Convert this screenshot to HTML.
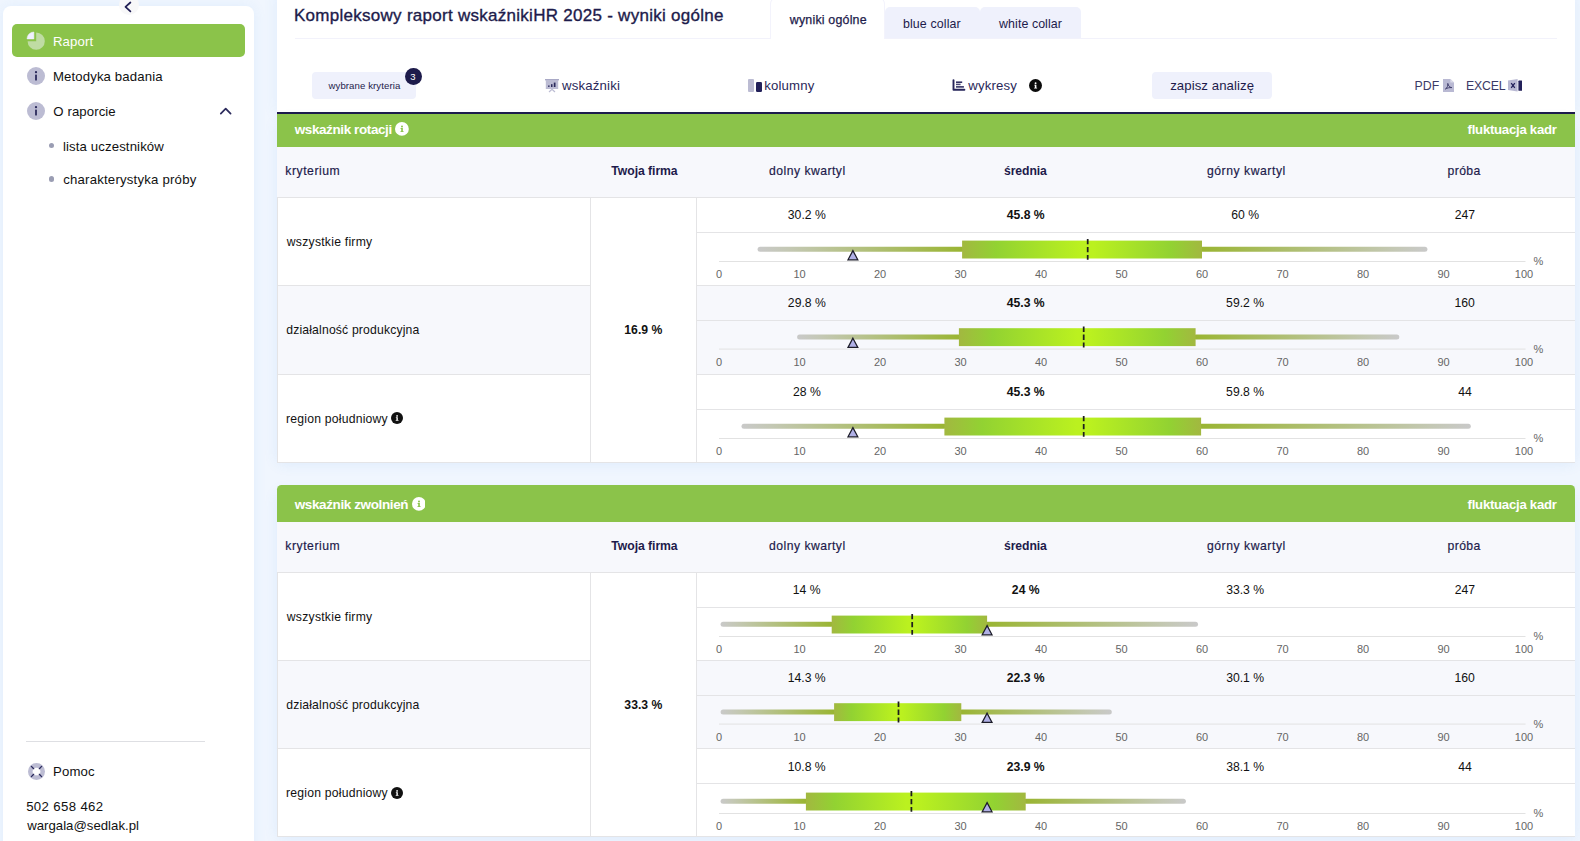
<!DOCTYPE html>
<html><head><meta charset="utf-8">
<style>
*{box-sizing:border-box;margin:0;padding:0}
html,body{width:1580px;height:841px;overflow:hidden}
body{background:#f0f6fe;font-family:"Liberation Sans",sans-serif;color:#111;position:relative}
.abs{position:absolute}
#side{position:absolute;left:3px;top:6px;width:251px;height:860px;background:#fff;border-radius:8px;box-shadow:0 0 14px rgba(60,135,235,.085)}
#main{position:absolute;left:277px;top:-10px;width:1298px;height:124px;background:#fff;box-shadow:0 0 14px rgba(60,135,235,.085)}
.ghead{position:absolute;left:277px;width:1298px;background:#8bc34a}
.thead{position:absolute;left:277px;width:1298px;height:50px;background:#f7f8fc}
.tbody{position:absolute;left:277px;width:1298px;background:#fff}
.alt{position:absolute;background:#f7f8fc}
.hl{position:absolute;height:1px;background:#e4e4e6}
.vl{position:absolute;width:1px;background:#e4e4e6}
.ch{position:absolute;left:697px}
.tk{font-family:"Liberation Sans",sans-serif;font-size:11px;fill:#666;text-anchor:middle}
.ic{position:absolute;left:27px;width:18px;height:18px;border-radius:50%;background:#bcbcd3}
</style></head><body>
<div id="side"></div>
<!-- collapse btn -->
<div class="abs" style="left:119px;top:-4.6px;width:20px;height:20px;border-radius:50%;background:#f8f8f9"></div>
<svg class="abs" style="left:123px;top:1px" width="10" height="12" viewBox="0 0 10 12"><path d="M7.4 1.5 L2.5 5.9 L7.4 10.3" fill="none" stroke="#211f55" stroke-width="1.75" stroke-linecap="round" stroke-linejoin="round"/></svg>
<!-- Raport -->
<div class="abs" style="left:12px;top:24px;width:233px;height:33px;background:#8bc34a;border-radius:5px"></div>
<svg class="abs" style="left:26px;top:31px" width="20" height="20" viewBox="0 0 20 20"><path d="M10.2 10.2 L10.2 1.6 A8.6 8.6 0 1 1 1.6 10.2 Z" fill="#bfdca3"/><path d="M7.9 7.9 L1.0 7.9 A6.9 6.9 0 0 1 7.9 1.0 Z" fill="#f0f0ff" stroke="#f0f0ff" stroke-width="0.5" stroke-linejoin="round"/></svg>
<!-- Metodyka -->
<div class="ic" style="top:67px"></div>
<svg class="abs" style="left:27px;top:67px" width="18" height="18" viewBox="0 0 18 18"><circle cx="9" cy="5.2" r="1.15" fill="#2b2a5c"/><rect x="8.1" y="7.6" width="1.8" height="6" rx="0.6" fill="#2b2a5c"/></svg>
<!-- O raporcie -->
<div class="ic" style="top:102px"></div>
<svg class="abs" style="left:27px;top:102px" width="18" height="18" viewBox="0 0 18 18"><circle cx="9" cy="5.2" r="1.15" fill="#2b2a5c"/><rect x="8.1" y="7.6" width="1.8" height="6" rx="0.6" fill="#2b2a5c"/></svg>
<svg class="abs" style="left:219px;top:106px" width="13" height="10" viewBox="0 0 13 10"><path d="M1.8 7.6 L6.7 2.6 L11.6 7.6" fill="none" stroke="#2b2a5c" stroke-width="1.7" stroke-linecap="round" stroke-linejoin="round"/></svg>
<div class="abs" style="left:48.8px;top:143px;width:5.2px;height:5.2px;border-radius:50%;background:#9a9db3"></div>
<div class="abs" style="left:48.8px;top:176.4px;width:5.2px;height:5.2px;border-radius:50%;background:#9a9db3"></div>
<!-- bottom -->
<div class="abs" style="left:26px;top:741px;width:179px;height:1px;background:#dedfe3"></div>
<div class="ic" style="top:763px;left:27.5px;width:17px;height:17px"></div>
<svg class="abs" style="left:27.5px;top:763px" width="17" height="17" viewBox="0 0 18 18"><circle cx="9" cy="9" r="4.1" fill="#fff"/><g stroke="#2b2a5c" stroke-width="1.4" stroke-linecap="round"><line x1="3.6" y1="3.6" x2="6" y2="6"/><line x1="14.4" y1="3.6" x2="12" y2="6"/><line x1="3.6" y1="14.4" x2="6" y2="12"/><line x1="14.4" y1="14.4" x2="12" y2="12"/></g></svg>

<div id="main"></div>
<div class="abs" style="left:295px;top:38px;width:1262px;height:1px;background:#f2f2fb"></div>
<!-- tabs -->
<div class="abs" style="left:770px;top:-3px;width:115px;height:42px;background:#fff;border:1px solid #f3f3fc;border-bottom:none;border-radius:7px 7px 0 0"></div>
<div class="abs" style="left:885px;top:7px;width:95px;height:31px;background:#eff1fc;border-radius:5px 5px 0 0"></div>
<div class="abs" style="left:980px;top:7px;width:101px;height:31px;background:#eff1fc;border-radius:5px 5px 0 0"></div>
<!-- toolbar -->
<div class="abs" style="left:312px;top:72px;width:104px;height:27px;background:#eff1fc;border-radius:4px"></div>
<div class="abs" style="left:404.9px;top:68.1px;width:16.8px;height:16.8px;border-radius:50%;background:#1d1b4b"></div>
<div class="abs" style="left:1152px;top:72px;width:120px;height:27px;background:#eff1fc;border-radius:4px"></div>
<!-- icons -->
<svg class="abs" style="left:544px;top:78px" width="16" height="15" viewBox="0 0 16 15"><rect x="1" y="1" width="14" height="1.4" fill="#a9a9c6"/><rect x="1.8" y="2" width="12.4" height="9" fill="#bcbcd3"/><path d="M5 14 L8 11.2 L11 14" fill="none" stroke="#bcbcd3" stroke-width="1.2"/><rect x="4.2" y="7.4" width="1.3" height="1.6" fill="#2b2a5c"/><rect x="7" y="6.2" width="1.5" height="2.8" fill="#2b2a5c"/><rect x="9.8" y="4.6" width="1.7" height="4.4" fill="#2b2a5c"/></svg>
<div class="abs" style="left:748.1px;top:78.9px;width:5.7px;height:12.7px;background:#bcbcd3;border-radius:1px"></div>
<div class="abs" style="left:756px;top:81.6px;width:6.1px;height:10px;background:#23215a;border-radius:1.2px"></div>
<svg class="abs" style="left:951px;top:78px" width="16" height="14" viewBox="0 0 16 14"><path d="M2.5 2.1 V11.8 H13.4" fill="none" stroke="#26245a" stroke-width="1.9" stroke-linecap="round" stroke-linejoin="round"/><g stroke="#26245a" stroke-width="1.5" stroke-linecap="butt"><line x1="5" y1="4.2" x2="11.2" y2="4.2"/><line x1="5" y1="6.4" x2="9.6" y2="6.4" stroke="#4a4878"/><line x1="5" y1="8.9" x2="12.9" y2="8.9"/></g></svg>
<svg class="abs" style="left:1443px;top:78.8px" width="11" height="13" viewBox="0 0 11 13"><path d="M0 0 H7.4 L11 3.6 V13 H0 Z" fill="#b9b9d3"/><path d="M7.4 0 L11 3.6 H7.4 Z" fill="#dcdcea"/><path d="M2.4 10 C4.4 8.8 5 6.6 4.8 4.4 C5.2 6.8 6.8 8.4 8.8 8.6 C6.4 8.4 4.2 9 2.4 10 Z" fill="none" stroke="#3a3866" stroke-width="0.9" stroke-linejoin="round"/></svg>
<svg class="abs" style="left:1508px;top:78.6px" width="14.4" height="13" viewBox="0 0 14.4 13"><path d="M0 1.6 L9.6 0 V12.6 L0 11 Z" fill="#b9b9d3"/><rect x="10.4" y="1.6" width="3.8" height="10.2" rx="0.6" fill="#23215a"/><path d="M3.2 4.2 L6.8 8.8 M6.8 4.2 L3.2 8.8" stroke="#23215a" stroke-width="1.3"/></svg>
<!-- navy line -->
<div class="abs" style="left:277px;top:112px;width:1298px;height:2px;background:#1d1b4b"></div>
<div class="abs" style="left:277px;top:118px;width:1298px;height:343px;box-shadow:0 3px 14px rgba(60,135,235,.10);border-radius:5px"></div>
<div class="ghead" style="top:114px;height:33px;"></div>
<div style="position:absolute;white-space:nowrap;line-height:15px;top:122px;left:294.70px;font-size:13.5px;font-weight:bold;color:#fff;letter-spacing:-0.401px;">wskaźnik rotacji</div>
<svg class="abs" style="left:395.10px;top:122.15px" width="13.8" height="13.8" viewBox="0 0 16 16"><circle cx="8" cy="8" r="8" fill="#fff"/><path d="M6.5 7.0 H9.1 V10.7 H10 V11.7 H6.3 V10.7 H7.2 V8.0 H6.5 Z" fill="#8bc34a"/><circle cx="8.1" cy="5.2" r="1.15" fill="#8bc34a"/></svg>
<div style="position:absolute;white-space:nowrap;line-height:15px;top:122px;left:1467.59px;font-size:13.2px;font-weight:bold;color:#fff;letter-spacing:-0.266px;">fluktuacja kadr</div>
<div class="thead" style="top:147px"></div>
<div style="position:absolute;white-space:nowrap;line-height:14px;top:164px;left:285.37px;font-size:12.2px;font-weight:normal;color:#1d1b4b;letter-spacing:0.528px;-webkit-text-stroke:0.18px #1d1b4b;">kryterium</div>
<div style="position:absolute;white-space:nowrap;line-height:14px;top:164px;left:611.33px;font-size:12.2px;font-weight:bold;color:#1d1b4b;letter-spacing:-0.051px;">Twoja firma</div>
<div style="position:absolute;white-space:nowrap;line-height:14px;top:164px;left:769.12px;font-size:12.2px;font-weight:normal;color:#1d1b4b;letter-spacing:0.464px;-webkit-text-stroke:0.18px #1d1b4b;">dolny kwartyl</div>
<div style="position:absolute;white-space:nowrap;line-height:14px;top:164px;left:1004.04px;font-size:12.2px;font-weight:bold;color:#1d1b4b;letter-spacing:-0.097px;">średnia</div>
<div style="position:absolute;white-space:nowrap;line-height:14px;top:164px;left:1206.94px;font-size:12.2px;font-weight:normal;color:#1d1b4b;letter-spacing:0.541px;-webkit-text-stroke:0.18px #1d1b4b;">górny kwartyl</div>
<div style="position:absolute;white-space:nowrap;line-height:14px;top:164px;left:1447.45px;font-size:12.2px;font-weight:normal;color:#1d1b4b;letter-spacing:0.440px;-webkit-text-stroke:0.18px #1d1b4b;">próba</div>
<div class="tbody" style="top:197px;height:265px"></div>
<div class="hl" style="top:197px;left:277px;width:1298px"></div>
<div class="hl" style="top:232px;left:697px;width:878px"></div>
<div style="position:absolute;white-space:nowrap;line-height:14px;top:235px;left:286.84px;font-size:12.2px;font-weight:normal;color:#111;letter-spacing:0.243px;">wszystkie firmy</div>
<div style="position:absolute;white-space:nowrap;line-height:14px;top:208px;left:787.84px;font-size:12.2px;font-weight:normal;color:#111;letter-spacing:0.000px;">30.2 %</div>
<div style="position:absolute;white-space:nowrap;line-height:14px;top:208px;left:1006.78px;font-size:12.2px;font-weight:bold;color:#111;letter-spacing:0.000px;">45.8 %</div>
<div style="position:absolute;white-space:nowrap;line-height:14px;top:208px;left:1231.20px;font-size:12.2px;font-weight:normal;color:#111;letter-spacing:0.000px;">60 %</div>
<div style="position:absolute;white-space:nowrap;line-height:14px;top:208px;left:1454.77px;font-size:12.2px;font-weight:normal;color:#111;letter-spacing:0.000px;">247</div>
<svg class="ch" style="top:233px" width="878" height="52" viewBox="697 233 878 52"><defs><linearGradient id="wl1" x1="757.64" x2="962.11" y1="0" y2="0" gradientUnits="userSpaceOnUse"><stop offset="0" stop-color="#c9c9c9"/><stop offset="0.15" stop-color="#c4c8b4"/><stop offset="1" stop-color="#9ab533"/></linearGradient><linearGradient id="wr1" x1="1202.0" x2="1427.4" y1="0" y2="0" gradientUnits="userSpaceOnUse"><stop offset="0" stop-color="#9ab533"/><stop offset="0.85" stop-color="#c4c8b4"/><stop offset="1" stop-color="#c9c9c9"/></linearGradient><linearGradient id="bl1" x1="962.11" x2="1087.69" y1="0" y2="0" gradientUnits="userSpaceOnUse"><stop offset="0" stop-color="#a2b840"/><stop offset="0.27" stop-color="#92d232"/><stop offset="0.95" stop-color="#bbf11f"/><stop offset="1" stop-color="#bbf11f"/></linearGradient><linearGradient id="br1" x1="1087.69" x2="1202.0" y1="0" y2="0" gradientUnits="userSpaceOnUse"><stop offset="0" stop-color="#bbf11f"/><stop offset="0.05" stop-color="#bbf11f"/><stop offset="0.73" stop-color="#92d232"/><stop offset="1" stop-color="#a2b840"/></linearGradient></defs><line x1="719" x2="1525.5" y1="261.5" y2="261.5" stroke="#e2e2e2" stroke-width="1"/><rect x="757.6" y="246.8" width="206.5" height="5" rx="2.5" fill="url(#wl1)"/><rect x="1200.0" y="246.8" width="227.4" height="5" rx="2.5" fill="url(#wr1)"/><rect x="962.1" y="240.6" width="126.1" height="17.9" fill="url(#bl1)"/><rect x="1087.7" y="240.6" width="114.3" height="17.9" fill="url(#br1)"/><line x1="1087.7" x2="1087.7" y1="239" y2="259.8" stroke="#1e1e1e" stroke-width="1.75" stroke-dasharray="5.3,2.7"/><path d="M852.9 250.6 L857.8 259.8 L848.0 259.8 Z" fill="#b0b0e6" stroke="#1c1c28" stroke-width="1.25" stroke-linejoin="miter"/><text x="719.0" y="278.4" class="tk">0</text><text x="799.5" y="278.4" class="tk">10</text><text x="880.0" y="278.4" class="tk">20</text><text x="960.5" y="278.4" class="tk">30</text><text x="1041.0" y="278.4" class="tk">40</text><text x="1121.5" y="278.4" class="tk">50</text><text x="1202.0" y="278.4" class="tk">60</text><text x="1282.5" y="278.4" class="tk">70</text><text x="1363.0" y="278.4" class="tk">80</text><text x="1443.5" y="278.4" class="tk">90</text><text x="1524.0" y="278.4" class="tk">100</text><text x="1538.5" y="265.3" class="tk">%</text></svg>
<div class="alt" style="top:285px;height:89px;left:277px;width:313px"></div>
<div class="alt" style="top:285px;height:89px;left:697px;width:878px"></div>
<div class="hl" style="top:285px;left:277px;width:313px"></div>
<div class="hl" style="top:285px;left:697px;width:878px"></div>
<div class="hl" style="top:320px;left:697px;width:878px"></div>
<div style="position:absolute;white-space:nowrap;line-height:14px;top:323px;left:286.22px;font-size:12.2px;font-weight:normal;color:#111;letter-spacing:0.167px;">działalność produkcyjna</div>
<div style="position:absolute;white-space:nowrap;line-height:14px;top:296px;left:787.86px;font-size:12.2px;font-weight:normal;color:#111;letter-spacing:0.000px;">29.8 %</div>
<div style="position:absolute;white-space:nowrap;line-height:14px;top:296px;left:1006.78px;font-size:12.2px;font-weight:bold;color:#111;letter-spacing:0.000px;">45.3 %</div>
<div style="position:absolute;white-space:nowrap;line-height:14px;top:296px;left:1226.12px;font-size:12.2px;font-weight:normal;color:#111;letter-spacing:0.000px;">59.2 %</div>
<div style="position:absolute;white-space:nowrap;line-height:14px;top:296px;left:1454.56px;font-size:12.2px;font-weight:normal;color:#111;letter-spacing:0.000px;">160</div>
<svg class="ch" style="top:321px" width="878" height="53" viewBox="697 321 878 53"><defs><linearGradient id="wl2" x1="797.085" x2="958.89" y1="0" y2="0" gradientUnits="userSpaceOnUse"><stop offset="0" stop-color="#c9c9c9"/><stop offset="0.15" stop-color="#c4c8b4"/><stop offset="1" stop-color="#9ab533"/></linearGradient><linearGradient id="wr2" x1="1195.56" x2="1399.225" y1="0" y2="0" gradientUnits="userSpaceOnUse"><stop offset="0" stop-color="#9ab533"/><stop offset="0.85" stop-color="#c4c8b4"/><stop offset="1" stop-color="#c9c9c9"/></linearGradient><linearGradient id="bl2" x1="958.89" x2="1083.665" y1="0" y2="0" gradientUnits="userSpaceOnUse"><stop offset="0" stop-color="#a2b840"/><stop offset="0.27" stop-color="#92d232"/><stop offset="0.95" stop-color="#bbf11f"/><stop offset="1" stop-color="#bbf11f"/></linearGradient><linearGradient id="br2" x1="1083.665" x2="1195.56" y1="0" y2="0" gradientUnits="userSpaceOnUse"><stop offset="0" stop-color="#bbf11f"/><stop offset="0.05" stop-color="#bbf11f"/><stop offset="0.73" stop-color="#92d232"/><stop offset="1" stop-color="#a2b840"/></linearGradient></defs><line x1="719" x2="1525.5" y1="349.1" y2="349.1" stroke="#e2e2e2" stroke-width="1"/><rect x="797.1" y="334.40000000000003" width="163.8" height="5" rx="2.5" fill="url(#wl2)"/><rect x="1193.6" y="334.40000000000003" width="205.7" height="5" rx="2.5" fill="url(#wr2)"/><rect x="958.9" y="328.20000000000005" width="125.3" height="17.9" fill="url(#bl2)"/><rect x="1083.7" y="328.20000000000005" width="111.9" height="17.9" fill="url(#br2)"/><line x1="1083.7" x2="1083.7" y1="326.6" y2="347.40000000000003" stroke="#1e1e1e" stroke-width="1.75" stroke-dasharray="5.3,2.7"/><path d="M852.9 338.20000000000005 L857.8 347.40000000000003 L848.0 347.40000000000003 Z" fill="#b0b0e6" stroke="#1c1c28" stroke-width="1.25" stroke-linejoin="miter"/><text x="719.0" y="366.0" class="tk">0</text><text x="799.5" y="366.0" class="tk">10</text><text x="880.0" y="366.0" class="tk">20</text><text x="960.5" y="366.0" class="tk">30</text><text x="1041.0" y="366.0" class="tk">40</text><text x="1121.5" y="366.0" class="tk">50</text><text x="1202.0" y="366.0" class="tk">60</text><text x="1282.5" y="366.0" class="tk">70</text><text x="1363.0" y="366.0" class="tk">80</text><text x="1443.5" y="366.0" class="tk">90</text><text x="1524.0" y="366.0" class="tk">100</text><text x="1538.5" y="352.90000000000003" class="tk">%</text></svg>
<div class="hl" style="top:374px;left:277px;width:313px"></div>
<div class="hl" style="top:374px;left:697px;width:878px"></div>
<div class="hl" style="top:409px;left:697px;width:878px"></div>
<div style="position:absolute;white-space:nowrap;line-height:14px;top:412px;left:285.98px;font-size:12.2px;font-weight:normal;color:#111;letter-spacing:0.215px;">region południowy</div>
<svg class="abs" style="left:391.20px;top:412.30px" width="12.0" height="12.0" viewBox="0 0 16 16"><circle cx="8" cy="8" r="8" fill="#111"/><path d="M6.5 7.0 H9.1 V10.7 H10 V11.7 H6.3 V10.7 H7.2 V8.0 H6.5 Z" fill="#fff"/><circle cx="8.1" cy="5.2" r="1.15" fill="#fff"/></svg>
<div style="position:absolute;white-space:nowrap;line-height:14px;top:385px;left:792.94px;font-size:12.2px;font-weight:normal;color:#111;letter-spacing:0.000px;">28 %</div>
<div style="position:absolute;white-space:nowrap;line-height:14px;top:385px;left:1006.78px;font-size:12.2px;font-weight:bold;color:#111;letter-spacing:0.000px;">45.3 %</div>
<div style="position:absolute;white-space:nowrap;line-height:14px;top:385px;left:1226.12px;font-size:12.2px;font-weight:normal;color:#111;letter-spacing:0.000px;">59.8 %</div>
<div style="position:absolute;white-space:nowrap;line-height:14px;top:385px;left:1458.18px;font-size:12.2px;font-weight:normal;color:#111;letter-spacing:0.000px;">44</div>
<svg class="ch" style="top:410px" width="878" height="52" viewBox="697 410 878 52"><defs><linearGradient id="wl3" x1="741.54" x2="944.4000000000001" y1="0" y2="0" gradientUnits="userSpaceOnUse"><stop offset="0" stop-color="#c9c9c9"/><stop offset="0.15" stop-color="#c4c8b4"/><stop offset="1" stop-color="#9ab533"/></linearGradient><linearGradient id="wr3" x1="1201.034" x2="1470.8700000000001" y1="0" y2="0" gradientUnits="userSpaceOnUse"><stop offset="0" stop-color="#9ab533"/><stop offset="0.85" stop-color="#c4c8b4"/><stop offset="1" stop-color="#c9c9c9"/></linearGradient><linearGradient id="bl3" x1="944.4000000000001" x2="1083.665" y1="0" y2="0" gradientUnits="userSpaceOnUse"><stop offset="0" stop-color="#a2b840"/><stop offset="0.27" stop-color="#92d232"/><stop offset="0.95" stop-color="#bbf11f"/><stop offset="1" stop-color="#bbf11f"/></linearGradient><linearGradient id="br3" x1="1083.665" x2="1201.034" y1="0" y2="0" gradientUnits="userSpaceOnUse"><stop offset="0" stop-color="#bbf11f"/><stop offset="0.05" stop-color="#bbf11f"/><stop offset="0.73" stop-color="#92d232"/><stop offset="1" stop-color="#a2b840"/></linearGradient></defs><line x1="719" x2="1525.5" y1="438.5" y2="438.5" stroke="#e2e2e2" stroke-width="1"/><rect x="741.5" y="423.8" width="204.9" height="5" rx="2.5" fill="url(#wl3)"/><rect x="1199.0" y="423.8" width="271.8" height="5" rx="2.5" fill="url(#wr3)"/><rect x="944.4" y="417.6" width="139.8" height="17.9" fill="url(#bl3)"/><rect x="1083.7" y="417.6" width="117.4" height="17.9" fill="url(#br3)"/><line x1="1083.7" x2="1083.7" y1="416" y2="436.8" stroke="#1e1e1e" stroke-width="1.75" stroke-dasharray="5.3,2.7"/><path d="M852.9 427.6 L857.8 436.8 L848.0 436.8 Z" fill="#b0b0e6" stroke="#1c1c28" stroke-width="1.25" stroke-linejoin="miter"/><text x="719.0" y="455.4" class="tk">0</text><text x="799.5" y="455.4" class="tk">10</text><text x="880.0" y="455.4" class="tk">20</text><text x="960.5" y="455.4" class="tk">30</text><text x="1041.0" y="455.4" class="tk">40</text><text x="1121.5" y="455.4" class="tk">50</text><text x="1202.0" y="455.4" class="tk">60</text><text x="1282.5" y="455.4" class="tk">70</text><text x="1363.0" y="455.4" class="tk">80</text><text x="1443.5" y="455.4" class="tk">90</text><text x="1524.0" y="455.4" class="tk">100</text><text x="1538.5" y="442.3" class="tk">%</text></svg>
<div class="hl" style="top:462px;left:277px;width:1298px"></div>
<div class="vl" style="top:197px;left:277px;height:265px"></div>
<div class="vl" style="top:197px;left:590px;height:265px"></div>
<div class="vl" style="top:197px;left:696px;height:265px"></div>
<div style="position:absolute;white-space:nowrap;line-height:14px;top:323px;left:624.34px;font-size:12.2px;font-weight:bold;color:#111;letter-spacing:0.000px;">16.9 %</div>
<div class="abs" style="left:277px;top:489px;width:1298px;height:347px;box-shadow:0 3px 14px rgba(60,135,235,.10);border-radius:5px"></div>
<div class="ghead" style="top:485px;height:37px;border-radius:4.5px 4.5px 0 0;"></div>
<div style="position:absolute;white-space:nowrap;line-height:15px;top:497px;left:294.70px;font-size:13.5px;font-weight:bold;color:#fff;letter-spacing:-0.386px;">wskaźnik zwolnień</div>
<svg class="abs" style="left:411.60px;top:496.95px" width="13.8" height="13.8" viewBox="0 0 16 16"><circle cx="8" cy="8" r="8" fill="#fff"/><path d="M6.5 7.0 H9.1 V10.7 H10 V11.7 H6.3 V10.7 H7.2 V8.0 H6.5 Z" fill="#8bc34a"/><circle cx="8.1" cy="5.2" r="1.15" fill="#8bc34a"/></svg>
<div style="position:absolute;white-space:nowrap;line-height:15px;top:497px;left:1467.59px;font-size:13.2px;font-weight:bold;color:#fff;letter-spacing:-0.266px;">fluktuacja kadr</div>
<div class="thead" style="top:522px"></div>
<div style="position:absolute;white-space:nowrap;line-height:14px;top:539px;left:285.37px;font-size:12.2px;font-weight:normal;color:#1d1b4b;letter-spacing:0.528px;-webkit-text-stroke:0.18px #1d1b4b;">kryterium</div>
<div style="position:absolute;white-space:nowrap;line-height:14px;top:539px;left:611.33px;font-size:12.2px;font-weight:bold;color:#1d1b4b;letter-spacing:-0.051px;">Twoja firma</div>
<div style="position:absolute;white-space:nowrap;line-height:14px;top:539px;left:769.12px;font-size:12.2px;font-weight:normal;color:#1d1b4b;letter-spacing:0.464px;-webkit-text-stroke:0.18px #1d1b4b;">dolny kwartyl</div>
<div style="position:absolute;white-space:nowrap;line-height:14px;top:539px;left:1004.04px;font-size:12.2px;font-weight:bold;color:#1d1b4b;letter-spacing:-0.097px;">średnia</div>
<div style="position:absolute;white-space:nowrap;line-height:14px;top:539px;left:1206.94px;font-size:12.2px;font-weight:normal;color:#1d1b4b;letter-spacing:0.541px;-webkit-text-stroke:0.18px #1d1b4b;">górny kwartyl</div>
<div style="position:absolute;white-space:nowrap;line-height:14px;top:539px;left:1447.45px;font-size:12.2px;font-weight:normal;color:#1d1b4b;letter-spacing:0.440px;-webkit-text-stroke:0.18px #1d1b4b;">próba</div>
<div class="tbody" style="top:572px;height:264px"></div>
<div class="hl" style="top:572px;left:277px;width:1298px"></div>
<div class="hl" style="top:607px;left:697px;width:878px"></div>
<div style="position:absolute;white-space:nowrap;line-height:14px;top:610px;left:286.84px;font-size:12.2px;font-weight:normal;color:#111;letter-spacing:0.243px;">wszystkie firmy</div>
<div style="position:absolute;white-space:nowrap;line-height:14px;top:583px;left:792.75px;font-size:12.2px;font-weight:normal;color:#111;letter-spacing:0.000px;">14 %</div>
<div style="position:absolute;white-space:nowrap;line-height:14px;top:583px;left:1011.86px;font-size:12.2px;font-weight:bold;color:#111;letter-spacing:0.000px;">24 %</div>
<div style="position:absolute;white-space:nowrap;line-height:14px;top:583px;left:1226.16px;font-size:12.2px;font-weight:normal;color:#111;letter-spacing:0.000px;">33.3 %</div>
<div style="position:absolute;white-space:nowrap;line-height:14px;top:583px;left:1454.77px;font-size:12.2px;font-weight:normal;color:#111;letter-spacing:0.000px;">247</div>
<svg class="ch" style="top:608px" width="878" height="52" viewBox="697 608 878 52"><defs><linearGradient id="wl4" x1="720.61" x2="831.7" y1="0" y2="0" gradientUnits="userSpaceOnUse"><stop offset="0" stop-color="#c9c9c9"/><stop offset="0.15" stop-color="#c4c8b4"/><stop offset="1" stop-color="#9ab533"/></linearGradient><linearGradient id="wr4" x1="987.065" x2="1197.975" y1="0" y2="0" gradientUnits="userSpaceOnUse"><stop offset="0" stop-color="#9ab533"/><stop offset="0.85" stop-color="#c4c8b4"/><stop offset="1" stop-color="#c9c9c9"/></linearGradient><linearGradient id="bl4" x1="831.7" x2="912.2" y1="0" y2="0" gradientUnits="userSpaceOnUse"><stop offset="0" stop-color="#a2b840"/><stop offset="0.27" stop-color="#92d232"/><stop offset="0.95" stop-color="#bbf11f"/><stop offset="1" stop-color="#bbf11f"/></linearGradient><linearGradient id="br4" x1="912.2" x2="987.065" y1="0" y2="0" gradientUnits="userSpaceOnUse"><stop offset="0" stop-color="#bbf11f"/><stop offset="0.05" stop-color="#bbf11f"/><stop offset="0.73" stop-color="#92d232"/><stop offset="1" stop-color="#a2b840"/></linearGradient></defs><line x1="719" x2="1525.5" y1="636.5" y2="636.5" stroke="#e2e2e2" stroke-width="1"/><rect x="720.6" y="621.8" width="113.1" height="5" rx="2.5" fill="url(#wl4)"/><rect x="985.1" y="621.8" width="212.9" height="5" rx="2.5" fill="url(#wr4)"/><rect x="831.7" y="615.6" width="81.0" height="17.9" fill="url(#bl4)"/><rect x="912.2" y="615.6" width="74.9" height="17.9" fill="url(#br4)"/><line x1="912.2" x2="912.2" y1="614" y2="634.8" stroke="#1e1e1e" stroke-width="1.75" stroke-dasharray="5.3,2.7"/><path d="M987.1 625.6 L992.0 634.8 L982.2 634.8 Z" fill="#b0b0e6" stroke="#1c1c28" stroke-width="1.25" stroke-linejoin="miter"/><text x="719.0" y="653.4" class="tk">0</text><text x="799.5" y="653.4" class="tk">10</text><text x="880.0" y="653.4" class="tk">20</text><text x="960.5" y="653.4" class="tk">30</text><text x="1041.0" y="653.4" class="tk">40</text><text x="1121.5" y="653.4" class="tk">50</text><text x="1202.0" y="653.4" class="tk">60</text><text x="1282.5" y="653.4" class="tk">70</text><text x="1363.0" y="653.4" class="tk">80</text><text x="1443.5" y="653.4" class="tk">90</text><text x="1524.0" y="653.4" class="tk">100</text><text x="1538.5" y="640.3" class="tk">%</text></svg>
<div class="alt" style="top:660px;height:88px;left:277px;width:313px"></div>
<div class="alt" style="top:660px;height:88px;left:697px;width:878px"></div>
<div class="hl" style="top:660px;left:277px;width:313px"></div>
<div class="hl" style="top:660px;left:697px;width:878px"></div>
<div class="hl" style="top:695px;left:697px;width:878px"></div>
<div style="position:absolute;white-space:nowrap;line-height:14px;top:698px;left:286.22px;font-size:12.2px;font-weight:normal;color:#111;letter-spacing:0.167px;">działalność produkcyjna</div>
<div style="position:absolute;white-space:nowrap;line-height:14px;top:671px;left:787.78px;font-size:12.2px;font-weight:normal;color:#111;letter-spacing:0.000px;">14.3 %</div>
<div style="position:absolute;white-space:nowrap;line-height:14px;top:671px;left:1006.78px;font-size:12.2px;font-weight:bold;color:#111;letter-spacing:0.000px;">22.3 %</div>
<div style="position:absolute;white-space:nowrap;line-height:14px;top:671px;left:1226.16px;font-size:12.2px;font-weight:normal;color:#111;letter-spacing:0.000px;">30.1 %</div>
<div style="position:absolute;white-space:nowrap;line-height:14px;top:671px;left:1454.56px;font-size:12.2px;font-weight:normal;color:#111;letter-spacing:0.000px;">160</div>
<svg class="ch" style="top:696px" width="878" height="52" viewBox="697 696 878 52"><defs><linearGradient id="wl5" x1="720.61" x2="834.115" y1="0" y2="0" gradientUnits="userSpaceOnUse"><stop offset="0" stop-color="#c9c9c9"/><stop offset="0.15" stop-color="#c4c8b4"/><stop offset="1" stop-color="#9ab533"/></linearGradient><linearGradient id="wr5" x1="961.3050000000001" x2="1111.8400000000001" y1="0" y2="0" gradientUnits="userSpaceOnUse"><stop offset="0" stop-color="#9ab533"/><stop offset="0.85" stop-color="#c4c8b4"/><stop offset="1" stop-color="#c9c9c9"/></linearGradient><linearGradient id="bl5" x1="834.115" x2="898.515" y1="0" y2="0" gradientUnits="userSpaceOnUse"><stop offset="0" stop-color="#a2b840"/><stop offset="0.27" stop-color="#92d232"/><stop offset="0.95" stop-color="#bbf11f"/><stop offset="1" stop-color="#bbf11f"/></linearGradient><linearGradient id="br5" x1="898.515" x2="961.3050000000001" y1="0" y2="0" gradientUnits="userSpaceOnUse"><stop offset="0" stop-color="#bbf11f"/><stop offset="0.05" stop-color="#bbf11f"/><stop offset="0.73" stop-color="#92d232"/><stop offset="1" stop-color="#a2b840"/></linearGradient></defs><line x1="719" x2="1525.5" y1="724.1" y2="724.1" stroke="#e2e2e2" stroke-width="1"/><rect x="720.6" y="709.4" width="115.5" height="5" rx="2.5" fill="url(#wl5)"/><rect x="959.3" y="709.4" width="152.5" height="5" rx="2.5" fill="url(#wr5)"/><rect x="834.1" y="703.2" width="64.9" height="17.9" fill="url(#bl5)"/><rect x="898.5" y="703.2" width="62.8" height="17.9" fill="url(#br5)"/><line x1="898.5" x2="898.5" y1="701.6" y2="722.4" stroke="#1e1e1e" stroke-width="1.75" stroke-dasharray="5.3,2.7"/><path d="M987.1 713.2 L992.0 722.4 L982.2 722.4 Z" fill="#b0b0e6" stroke="#1c1c28" stroke-width="1.25" stroke-linejoin="miter"/><text x="719.0" y="741.0" class="tk">0</text><text x="799.5" y="741.0" class="tk">10</text><text x="880.0" y="741.0" class="tk">20</text><text x="960.5" y="741.0" class="tk">30</text><text x="1041.0" y="741.0" class="tk">40</text><text x="1121.5" y="741.0" class="tk">50</text><text x="1202.0" y="741.0" class="tk">60</text><text x="1282.5" y="741.0" class="tk">70</text><text x="1363.0" y="741.0" class="tk">80</text><text x="1443.5" y="741.0" class="tk">90</text><text x="1524.0" y="741.0" class="tk">100</text><text x="1538.5" y="727.9" class="tk">%</text></svg>
<div class="hl" style="top:748px;left:277px;width:313px"></div>
<div class="hl" style="top:748px;left:697px;width:878px"></div>
<div class="hl" style="top:783px;left:697px;width:878px"></div>
<div style="position:absolute;white-space:nowrap;line-height:14px;top:786px;left:285.98px;font-size:12.2px;font-weight:normal;color:#111;letter-spacing:0.215px;">region południowy</div>
<svg class="abs" style="left:391.20px;top:786.80px" width="12.0" height="12.0" viewBox="0 0 16 16"><circle cx="8" cy="8" r="8" fill="#111"/><path d="M6.5 7.0 H9.1 V10.7 H10 V11.7 H6.3 V10.7 H7.2 V8.0 H6.5 Z" fill="#fff"/><circle cx="8.1" cy="5.2" r="1.15" fill="#fff"/></svg>
<div style="position:absolute;white-space:nowrap;line-height:14px;top:760px;left:787.78px;font-size:12.2px;font-weight:normal;color:#111;letter-spacing:0.000px;">10.8 %</div>
<div style="position:absolute;white-space:nowrap;line-height:14px;top:760px;left:1006.78px;font-size:12.2px;font-weight:bold;color:#111;letter-spacing:0.000px;">23.9 %</div>
<div style="position:absolute;white-space:nowrap;line-height:14px;top:760px;left:1226.16px;font-size:12.2px;font-weight:normal;color:#111;letter-spacing:0.000px;">38.1 %</div>
<div style="position:absolute;white-space:nowrap;line-height:14px;top:760px;left:1458.18px;font-size:12.2px;font-weight:normal;color:#111;letter-spacing:0.000px;">44</div>
<svg class="ch" style="top:784px" width="878" height="52" viewBox="697 784 878 52"><defs><linearGradient id="wl6" x1="720.61" x2="805.94" y1="0" y2="0" gradientUnits="userSpaceOnUse"><stop offset="0" stop-color="#c9c9c9"/><stop offset="0.15" stop-color="#c4c8b4"/><stop offset="1" stop-color="#9ab533"/></linearGradient><linearGradient id="wr6" x1="1025.705" x2="1185.9" y1="0" y2="0" gradientUnits="userSpaceOnUse"><stop offset="0" stop-color="#9ab533"/><stop offset="0.85" stop-color="#c4c8b4"/><stop offset="1" stop-color="#c9c9c9"/></linearGradient><linearGradient id="bl6" x1="805.94" x2="911.395" y1="0" y2="0" gradientUnits="userSpaceOnUse"><stop offset="0" stop-color="#a2b840"/><stop offset="0.27" stop-color="#92d232"/><stop offset="0.95" stop-color="#bbf11f"/><stop offset="1" stop-color="#bbf11f"/></linearGradient><linearGradient id="br6" x1="911.395" x2="1025.705" y1="0" y2="0" gradientUnits="userSpaceOnUse"><stop offset="0" stop-color="#bbf11f"/><stop offset="0.05" stop-color="#bbf11f"/><stop offset="0.73" stop-color="#92d232"/><stop offset="1" stop-color="#a2b840"/></linearGradient></defs><line x1="719" x2="1525.5" y1="813.5" y2="813.5" stroke="#e2e2e2" stroke-width="1"/><rect x="720.6" y="798.8" width="87.3" height="5" rx="2.5" fill="url(#wl6)"/><rect x="1023.7" y="798.8" width="162.2" height="5" rx="2.5" fill="url(#wr6)"/><rect x="805.9" y="792.6" width="106.0" height="17.9" fill="url(#bl6)"/><rect x="911.4" y="792.6" width="114.3" height="17.9" fill="url(#br6)"/><line x1="911.4" x2="911.4" y1="791" y2="811.8" stroke="#1e1e1e" stroke-width="1.75" stroke-dasharray="5.3,2.7"/><path d="M987.1 802.6 L992.0 811.8 L982.2 811.8 Z" fill="#b0b0e6" stroke="#1c1c28" stroke-width="1.25" stroke-linejoin="miter"/><text x="719.0" y="830.4" class="tk">0</text><text x="799.5" y="830.4" class="tk">10</text><text x="880.0" y="830.4" class="tk">20</text><text x="960.5" y="830.4" class="tk">30</text><text x="1041.0" y="830.4" class="tk">40</text><text x="1121.5" y="830.4" class="tk">50</text><text x="1202.0" y="830.4" class="tk">60</text><text x="1282.5" y="830.4" class="tk">70</text><text x="1363.0" y="830.4" class="tk">80</text><text x="1443.5" y="830.4" class="tk">90</text><text x="1524.0" y="830.4" class="tk">100</text><text x="1538.5" y="817.3" class="tk">%</text></svg>
<div class="hl" style="top:836px;left:277px;width:1298px"></div>
<div class="vl" style="top:572px;left:277px;height:264px"></div>
<div class="vl" style="top:572px;left:590px;height:264px"></div>
<div class="vl" style="top:572px;left:696px;height:264px"></div>
<div style="position:absolute;white-space:nowrap;line-height:14px;top:698px;left:624.37px;font-size:12.2px;font-weight:bold;color:#111;letter-spacing:0.000px;">33.3 %</div>
<div style="position:absolute;white-space:nowrap;line-height:15px;top:34px;left:52.92px;font-size:13.2px;font-weight:normal;color:#fff;letter-spacing:0.111px;">Raport</div>
<div style="position:absolute;white-space:nowrap;line-height:15px;top:69px;left:52.92px;font-size:13.2px;font-weight:normal;color:#111;letter-spacing:0.125px;">Metodyka badania</div>
<div style="position:absolute;white-space:nowrap;line-height:15px;top:104px;left:53.34px;font-size:13.2px;font-weight:normal;color:#111;letter-spacing:0.086px;">O raporcie</div>
<div style="position:absolute;white-space:nowrap;line-height:15px;top:139px;left:63.01px;font-size:13.2px;font-weight:normal;color:#111;letter-spacing:0.117px;">lista uczestników</div>
<div style="position:absolute;white-space:nowrap;line-height:15px;top:172px;left:63.19px;font-size:13.2px;font-weight:normal;color:#111;letter-spacing:0.204px;">charakterystyka próby</div>
<div style="position:absolute;white-space:nowrap;line-height:15px;top:764px;left:52.92px;font-size:13.2px;font-weight:normal;color:#111;letter-spacing:0.177px;">Pomoc</div>
<div style="position:absolute;white-space:nowrap;line-height:15px;top:799px;left:26.15px;font-size:13.2px;font-weight:normal;color:#111;letter-spacing:0.363px;">502 658 462</div>
<div style="position:absolute;white-space:nowrap;line-height:15px;top:818px;left:27.21px;font-size:13.2px;font-weight:normal;color:#111;letter-spacing:0.008px;">wargala@sedlak.pl</div>
<div style="position:absolute;white-space:nowrap;line-height:19px;top:6px;left:294.00px;font-size:17.0px;font-weight:normal;color:#1d1b4b;letter-spacing:0.274px;-webkit-text-stroke:0.35px #1d1b4b;">Kompleksowy raport wskaźnikiHR 2025 - wyniki ogólne</div>
<div style="position:absolute;white-space:nowrap;line-height:14px;top:13px;left:789.82px;font-size:12.4px;font-weight:normal;color:#1d1b4b;letter-spacing:0.197px;-webkit-text-stroke:0.25px #1d1b4b;">wyniki ogólne</div>
<div style="position:absolute;white-space:nowrap;line-height:14px;top:17px;left:902.91px;font-size:12.4px;font-weight:normal;color:#1d1b4b;letter-spacing:0.131px;">blue collar</div>
<div style="position:absolute;white-space:nowrap;line-height:14px;top:17px;left:999.10px;font-size:12.4px;font-weight:normal;color:#1d1b4b;letter-spacing:0.072px;">white collar</div>
<div style="position:absolute;white-space:nowrap;line-height:11px;top:80px;left:328.50px;font-size:9.6px;font-weight:normal;color:#1d1b4b;letter-spacing:0.091px;">wybrane kryteria</div>
<div style="position:absolute;white-space:nowrap;line-height:11px;top:71px;left:410.33px;font-size:9.5px;font-weight:normal;color:#fff;letter-spacing:0.000px;">3</div>
<div style="position:absolute;white-space:nowrap;line-height:15px;top:78px;left:561.94px;font-size:13.2px;font-weight:normal;color:#2a2859;letter-spacing:0.199px;">wskaźniki</div>
<div style="position:absolute;white-space:nowrap;line-height:15px;top:78px;left:764.17px;font-size:13.2px;font-weight:normal;color:#2a2859;letter-spacing:0.171px;">kolumny</div>
<div style="position:absolute;white-space:nowrap;line-height:15px;top:78px;left:968.21px;font-size:13.2px;font-weight:normal;color:#2a2859;letter-spacing:0.189px;">wykresy</div>
<div style="position:absolute;white-space:nowrap;line-height:15px;top:78px;left:1170.21px;font-size:13.2px;font-weight:normal;color:#1d1b4b;letter-spacing:0.077px;">zapisz analizę</div>
<div style="position:absolute;white-space:nowrap;line-height:14px;top:79px;left:1414.56px;font-size:12.3px;font-weight:normal;color:#3b3a66;letter-spacing:0.035px;">PDF</div>
<div style="position:absolute;white-space:nowrap;line-height:14px;top:79px;left:1465.92px;font-size:12.3px;font-weight:normal;color:#3b3a66;letter-spacing:-0.177px;">EXCEL</div>
<svg class="abs" style="left:1028.60px;top:78.70px" width="13.0" height="13.0" viewBox="0 0 16 16"><circle cx="8" cy="8" r="8" fill="#0b0b0b"/><path d="M6.5 7.0 H9.1 V10.7 H10 V11.7 H6.3 V10.7 H7.2 V8.0 H6.5 Z" fill="#fff"/><circle cx="8.1" cy="5.2" r="1.15" fill="#fff"/></svg>
</body></html>
